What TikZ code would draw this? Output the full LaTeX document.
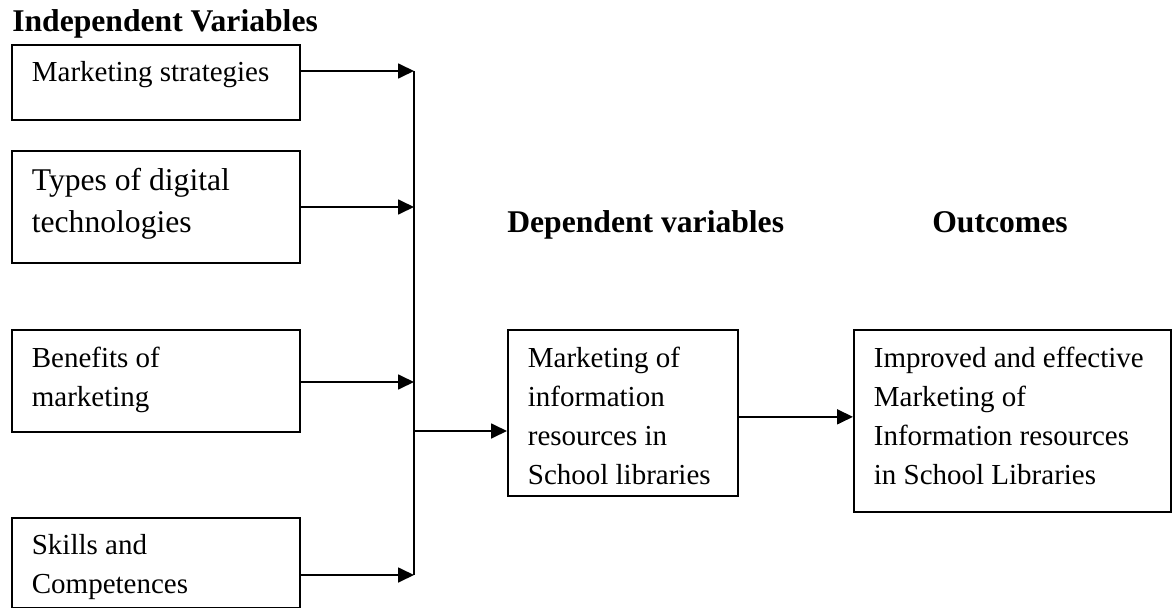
\documentclass[tikz,border=0pt]{standalone}
\usepackage{fontspec}
\setmainfont{Liberation Serif}
\usetikzlibrary{arrows.meta}

\tikzset{
  varbox/.style={draw, line width=1pt, anchor=north west,
                 inner xsep=0.4cm, inner ysep=0.34cm},
  flow/.style={-{Triangle[length=0.32cm,width=0.3cm]}, line width=1pt},
  heading/.style={font=\fontsize{18}{22}\selectfont\bfseries,
                  anchor=base west, inner sep=0},
}
\newcommand{\boxtext}[3]{\parbox[c][#1][t]{#2}{\raggedright #3}}

\begin{document}
\begin{tikzpicture}[x=0.02cm, y=-0.02cm,
      body/.style={font=\fontsize{16.5}{22.2}\selectfont},
    ]
    \useasboundingbox (0,0) rectangle (1173,608);
    \def\busx{414}  % x of the collecting line

    % Headings
    \node[heading] (hin) at (12,32) {Independent Variables};
    \node[heading] (hdep) at (507,232) {Dependent variables};
    \node[heading] (hout) at (932,232) {Outcomes};

    % Independent variables
    \foreach \n/\y/\h/\fs/\ls/\txt in {
      1/44/0.82/16.5/22.2/{Marketing strategies},
      2/150/1.56/18/24/{Types of digital\\technologies},
      3/329/1.36/16.5/22.2/{Benefits of\\marketing},
      4/517/1.12/16.5/22.2/{Skills and\\Competences}} {
      \node[varbox, font=\fontsize{\fs}{\ls}\selectfont] (in\n) at (11,\y)
        {\boxtext{\h cm}{4.96cm}{\txt}};
    }

    % Dependent variable and outcome
    \node[varbox, body] (dep) at (507,329)
      {\boxtext{2.64cm}{3.8cm}{Marketing of\\information\\resources in\\School libraries}};
    \node[varbox, body] (out) at (853,329)
      {\boxtext{2.96cm}{5.54cm}{Improved and effective\\Marketing of\\Information resources\\in School Libraries}};

    % Collecting line
    \foreach \n/\y in {1/71, 2/207, 3/382, 4/575, 5/431}
      \coordinate (j\n) at (\busx,\y);
    \draw[line width=1pt] (j1) -- (j4);
    \foreach \n in {1,...,4}
      \draw[flow] (in\n.east |- j\n) -- (j\n);
    \draw[flow] (j5) -- (j5 -| dep.west);
    \draw[flow] ([yshift=-0.08cm]dep.east) -- ([yshift=-0.08cm]dep.east -| out.west);
  \end{tikzpicture}
\end{document}
